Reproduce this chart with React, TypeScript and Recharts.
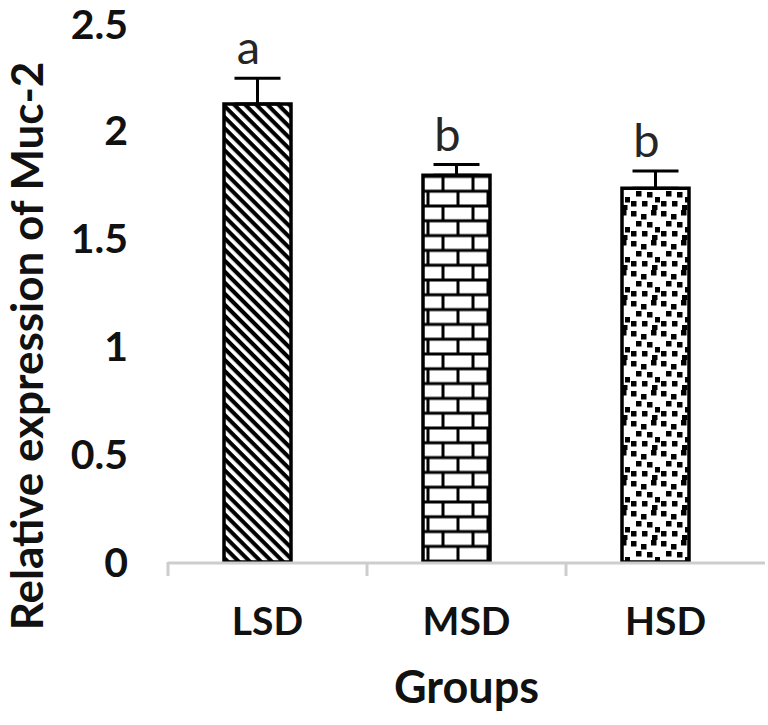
import React from "react";
import { BarChart, Bar, XAxis, YAxis, ErrorBar, Cell, LabelList } from "recharts";

const categories = ["LSD", "MSD", "HSD"];
const values = [2.12, 1.79, 1.73];
const errors = [0.12, 0.05, 0.08];
const letters = ["a", "b", "b"];
const yTicks = [0, 0.5, 1, 1.5, 2, 2.5];
const patternIds = ["pat-diag", "pat-brick", "pat-dots"];

const data = categories.map((c, i) => ({
  group: c,
  value: values[i],
  err: [0, errors[i]],
  letter: letters[i],
}));

const W = 768;
const H = 725;
const MARGIN = { top: 22, right: 13, bottom: 0, left: 0 };
const Y_W = 158;
const X_H = 163;
const PLOT_W = W - MARGIN.left - MARGIN.right - Y_W;
const BAND = PLOT_W / categories.length;
const SHIFT = 10;
const FONT = "Lato, 'Open Sans', sans-serif";
const AXIS_GRAY = "#cdcdcd";

const XTick = (props: any) => {
  const { x, y, payload } = props;
  const cx = x + SHIFT;
  const half = BAND / 2;
  return (
    <g>
      <line x1={cx - half} x2={cx + half} y1={y + 1} y2={y + 1} stroke={AXIS_GRAY} strokeWidth={3} />
      <line x1={cx - half} x2={cx - half} y1={y} y2={y + 14} stroke={AXIS_GRAY} strokeWidth={3} />
      <text x={cx} y={y + 73} textAnchor="middle" fontFamily={FONT} fontWeight={700} fontSize={39} fill="#111">
        {payload.value}
      </text>
    </g>
  );
};

const LetterLabel = (props: any) => {
  const { x, y, width, height, index, value } = props;
  const perUnit = height / values[index];
  const top = y - errors[index] * perUnit;
  return (
    <text x={x + width / 2 - 9} y={top - 14} textAnchor="middle" fontFamily={FONT} fontWeight={400} fontSize={47} fill="#262626">
      {value}
    </text>
  );
};

const Patterns = () => (
  <svg width={0} height={0} style={{ position: "absolute" }}>
    <defs>
      <pattern id="pat-diag" patternUnits="userSpaceOnUse" width={7.8} height={7.8} patternTransform="rotate(45)">
        <rect x={0} y={0} width={7.8} height={7.8} fill="#fff" />
        <rect x={0} y={0} width={7.8} height={4.1} fill="#000" />
      </pattern>
      <pattern id="pat-brick" patternUnits="userSpaceOnUse" x={443} y={502} width={30} height={29.6}>
        <rect x={0} y={0} width={30} height={29.6} fill="#fff" />
        <rect x={0} y={-1.5} width={30} height={3} fill="#000" />
        <rect x={0} y={13.3} width={30} height={3} fill="#000" />
        <rect x={0} y={28.1} width={30} height={3} fill="#000" />
        <rect x={-1.5} y={0} width={3} height={14.8} fill="#000" />
        <rect x={28.5} y={0} width={3} height={14.8} fill="#000" />
        <rect x={13.5} y={14.8} width={3} height={14.8} fill="#000" />
      </pattern>
      <pattern id="pat-dots" patternUnits="userSpaceOnUse" width={30} height={30}>
        <rect x={0} y={0} width={30} height={30} fill="#fff" />
        <rect x={1} y={1} width={5.5} height={5.5} fill="#000" />
        <rect x={11} y={4} width={5.5} height={5.5} fill="#000" />
        <rect x={21} y={0} width={5.5} height={5.5} fill="#000" />
        <rect x={6} y={11} width={5.5} height={5.5} fill="#000" />
        <rect x={17} y={12} width={5.5} height={5.5} fill="#000" />
        <rect x={25} y={17} width={5.5} height={5.5} fill="#000" />
        <rect x={1} y={21} width={5.5} height={5.5} fill="#000" />
        <rect x={12} y={21} width={5.5} height={5.5} fill="#000" />
        <rect x={22} y={25} width={5.5} height={5.5} fill="#000" />
      </pattern>
    </defs>
  </svg>
);

export default function App() {
  return (
    <div style={{ position: "absolute", left: 0, top: 0, width: W, height: H, background: "#fff" }}>
      <Patterns />
      <BarChart width={W} height={H} data={data} margin={MARGIN}>
        <XAxis
          dataKey="group"
          height={X_H}
          axisLine={false}
          tickLine={false}
          tickSize={0}
          tickMargin={0}
          interval={0}
          tick={<XTick />}
          label={{
            content: (p: any) => {
              const vb = p.viewBox || {};
              return (
                <text
                  x={vb.x + vb.width / 2 + SHIFT}
                  y={703}
                  textAnchor="middle"
                  fontFamily={FONT}
                  fontWeight={700}
                  fontSize={45}
                  fill="#111"
                >
                  Groups
                </text>
              );
            },
          }}
        />
        <YAxis
          width={Y_W}
          domain={[0, 2.5]}
          ticks={yTicks}
          axisLine={false}
          tickLine={false}
          tickSize={0}
          tickMargin={30}
          tick={{ fontFamily: FONT, fontWeight: 700, fontSize: 41, fill: "#111" }}
          label={{
            content: () => (
              <text
                transform="translate(43,346) rotate(-90)"
                textAnchor="middle"
                fontFamily={FONT}
                fontWeight={700}
                fontSize={44}
                fill="#111"
              >
                Relative expression of Muc-2
              </text>
            ),
          }}
        />
        <Bar dataKey="value" barSize={67} stroke="#000" strokeWidth={3.5} isAnimationActive={false}>
          {data.map((d, i) => (
            <Cell key={d.group} fill={`url(#${patternIds[i]})`} />
          ))}
          <ErrorBar dataKey="err" width={23} strokeWidth={3} stroke="#000" direction="y" isAnimationActive={false} />
          <LabelList dataKey="letter" content={<LetterLabel />} />
        </Bar>
      </BarChart>
    </div>
  );
}
